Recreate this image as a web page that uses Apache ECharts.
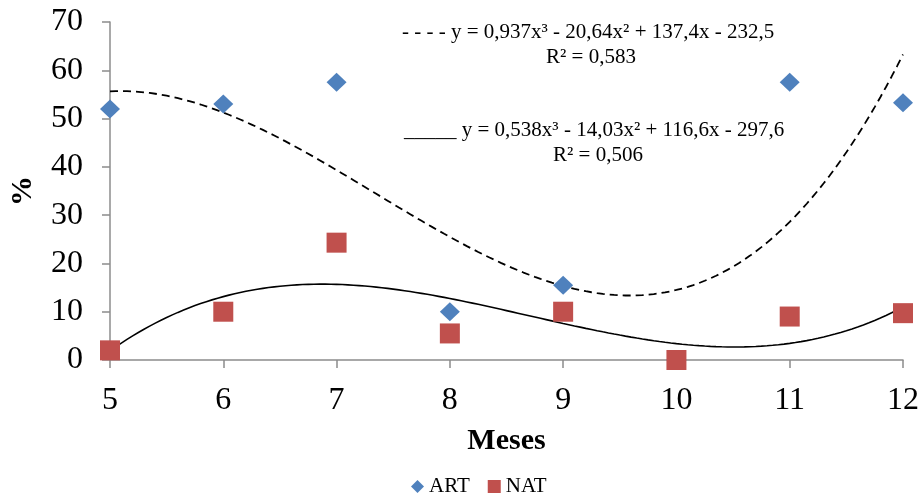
<!DOCTYPE html>
<html><head><meta charset="utf-8">
<script src="https://cdn.jsdelivr.net/npm/echarts@6/dist/echarts.min.js"></script>
<style>html,body{margin:0;padding:0;background:#fff}#c{width:924px;height:497px}</style>
</head><body><div id="c"></div>
<script>
var months = [5, 6, 7, 8, 9, 10, 11, 12];
var artValues = [52, 53, 57.5, 10, 15.5, 0, 57.5, 53.3];
var natValues = [2, 10, 24.3, 5.5, 10, 0, 9, 9.7];
// displayed trendline equations (coefficients for x^3, x^2, x, 1)
var artTrendCoef = [0.937, -20.64, 137.4, -232.5];
var natTrendCoef = [0.538, -14.03, 116.6, -297.6];
var artEqText = '- - - - y = 0,937x³ - 20,64x² + 137,4x - 232,5';
var artR2Text = 'R² = 0,583';
var natEqText = '_____ y = 0,538x³ - 14,03x² + 116,6x - 297,6';
var natR2Text = 'R² = 0,506';
var yTicks = [0, 10, 20, 30, 40, 50, 60, 70];

function trend(c) {
  var pts = [];
  for (var i = 0; i <= 140; i++) {
    var x = 5 + i * 7 / 140;
    pts.push([x, c[0]*x*x*x + c[1]*x*x + c[2]*x + c[3]]);
  }
  return pts;
}
var serif = '"Liberation Serif", "Times New Roman", serif';
var chart = echarts.init(document.getElementById('c'));
chart.setOption({
  animation: false,
  textStyle: {fontFamily: serif},
  grid: {left: 109, right: 21, top: 22, bottom: 137},
  xAxis: {
    type: 'value', min: 5, max: 12, interval: 1,
    name: 'Meses', nameLocation: 'middle', nameGap: 66,
    nameTextStyle: {fontFamily: serif, fontSize: 30, fontWeight: 'bold', color: '#000'},
    axisLine: {lineStyle: {color: '#8c8c8c', width: 1.5}},
    axisTick: {show: true, length: 8, lineStyle: {color: '#8c8c8c', width: 1.5}},
    axisLabel: {fontFamily: serif, fontSize: 32, color: '#000', margin: 25},
    splitLine: {show: false}
  },
  yAxis: {
    type: 'value', min: 0, max: 70, interval: 10,
    name: '%', nameLocation: 'middle', nameGap: 72, nameRotate: 90,
    nameTextStyle: {fontFamily: serif, fontSize: 30, fontWeight: 'bold', color: '#000'},
    axisLine: {show: true, lineStyle: {color: '#8c8c8c', width: 1.5}},
    axisTick: {show: true, length: 8, lineStyle: {color: '#8c8c8c', width: 1.5}},
    axisLabel: {fontFamily: serif, fontSize: 32, color: '#000', margin: 27,
      formatter: function (v) { return yTicks.indexOf(v) >= 0 ? String(v) : ''; }},
    splitLine: {show: false}
  },
  legend: {
    top: 471, left: 406,
    itemWidth: 13, itemHeight: 13, itemGap: 18,
    textStyle: {fontFamily: serif, fontSize: 21, color: '#000'},
    data: ['ART', 'NAT']
  },
  series: [
    {name: 'ART trend', type: 'line', data: trend(artTrendCoef), showSymbol: false, symbol: 'none',
     lineStyle: {color: '#000', width: 1.8, type: [8, 5]}, silent: true, z: 1},
    {name: 'NAT trend', type: 'line', data: trend(natTrendCoef), showSymbol: false, symbol: 'none',
     lineStyle: {color: '#000', width: 1.6}, silent: true, z: 1},
    {name: 'ART', type: 'scatter', symbol: 'diamond', symbolSize: [20, 19],
     data: months.map(function (m, i) { return [m, artValues[i]]; }),
     itemStyle: {color: '#4F81BD', opacity: 1}, z: 3},
    {name: 'NAT', type: 'scatter', symbol: 'rect', symbolSize: 20,
     data: months.map(function (m, i) { return [m, natValues[i]]; }),
     itemStyle: {color: '#C0504D', opacity: 1}, z: 4}
  ],
  graphic: [
    {type: 'text', left: 402, top: 22, style: {text: artEqText, font: '21px ' + serif, fill: '#000'}},
    {type: 'text', left: 546, top: 47, style: {text: artR2Text, font: '21px ' + serif, fill: '#000'}},
    {type: 'text', left: 404, top: 120, style: {text: natEqText, font: '21px ' + serif, fill: '#000'}},
    {type: 'text', left: 553, top: 145, style: {text: natR2Text, font: '21px ' + serif, fill: '#000'}}
  ]
});
</script></body></html>
